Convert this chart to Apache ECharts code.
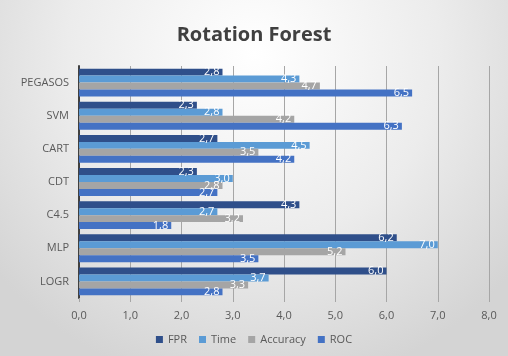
<!DOCTYPE html>
<html>
<head>
<meta charset="utf-8">
<script src="https://cdn.jsdelivr.net/npm/echarts@6/dist/echarts.min.js"></script>
<style>
  html, body { margin: 0; padding: 0; }
  #chart { width: 508px; height: 356px; }
</style>
</head>
<body>
<div id="chart"></div>
<script>
// Categories listed bottom-to-top (category axis starts at the bottom)
const categories = ['LOGR', 'MLP', 'C4.5', 'CDT', 'CART', 'SVM', 'PEGASOS'];
const fpr      = [6.0, 6.2, 4.3, 2.3, 2.7, 2.3, 2.8];
const time     = [3.7, 7.0, 2.7, 3.0, 4.5, 2.8, 4.3];
const accuracy = [3.3, 5.2, 3.2, 2.8, 3.5, 4.2, 4.7];
const roc      = [2.8, 3.5, 1.8, 2.7, 4.2, 6.3, 6.5];
const xTicks = { min: 0, max: 8, interval: 1 };

const comma = v => v.toFixed(1).replace('.', ',');
const font = 'Open Sans, Liberation Sans, sans-serif';

function bar(name, data, color) {
  return {
    name, type: 'bar', data,
    barGap: '0%', barCategoryGap: '16%',
    itemStyle: { color },
    label: {
      show: true, position: 'insideRight', distance: 3,
      color: '#ffffff', fontSize: 11, fontFamily: font,
      formatter: p => comma(p.value)
    }
  };
}

const chart = echarts.init(document.getElementById('chart'));
chart.setOption({
  backgroundColor: {
    type: 'radial', x: 0.5, y: 0.15, r: 0.95,
    colorStops: [
      { offset: 0, color: '#ffffff' },
      { offset: 0.55, color: '#ececec' },
      { offset: 1, color: '#d4d4d4' }
    ]
  },
  animation: false,
  title: {
    text: 'Rotation Forest', left: 'center', top: 20,
    textStyle: { fontSize: 20, fontWeight: 'bold', color: '#404040', fontFamily: font }
  },
  legend: {
    bottom: 6, left: 'center', itemWidth: 7, itemHeight: 7, itemGap: 12,
    icon: 'rect',
    textStyle: { fontSize: 11, color: '#595959', fontFamily: font },
    data: ['FPR', 'Time', 'Accuracy', 'ROC']
  },
  grid: { left: 79, right: 19, top: 66, bottom: 58, containLabel: false },
  xAxis: {
    type: 'value', min: xTicks.min, max: xTicks.max, interval: xTicks.interval,
    axisLine: { show: false },
    axisTick: { show: true, length: 4, lineStyle: { color: '#a6a6a6' } },
    splitLine: { show: true, lineStyle: { color: '#a6a6a6', width: 1 } },
    axisLabel: { color: '#595959', fontSize: 11, fontFamily: font, margin: 12,
                 formatter: v => comma(v) }
  },
  yAxis: {
    type: 'category', data: categories,
    axisLine: { show: true, lineStyle: { color: '#404040', width: 2 } },
    axisTick: { show: false },
    axisLabel: { color: '#595959', fontSize: 11, fontFamily: font, margin: 10 }
  },
  // first series is drawn at the top of each group
  series: [
    bar('FPR', fpr, '#2f4f8a'),
    bar('Time', time, '#5b9bd5'),
    bar('Accuracy', accuracy, '#a5a5a5'),
    bar('ROC', roc, '#4472c4')
  ]
});
</script>
</body>
</html>
